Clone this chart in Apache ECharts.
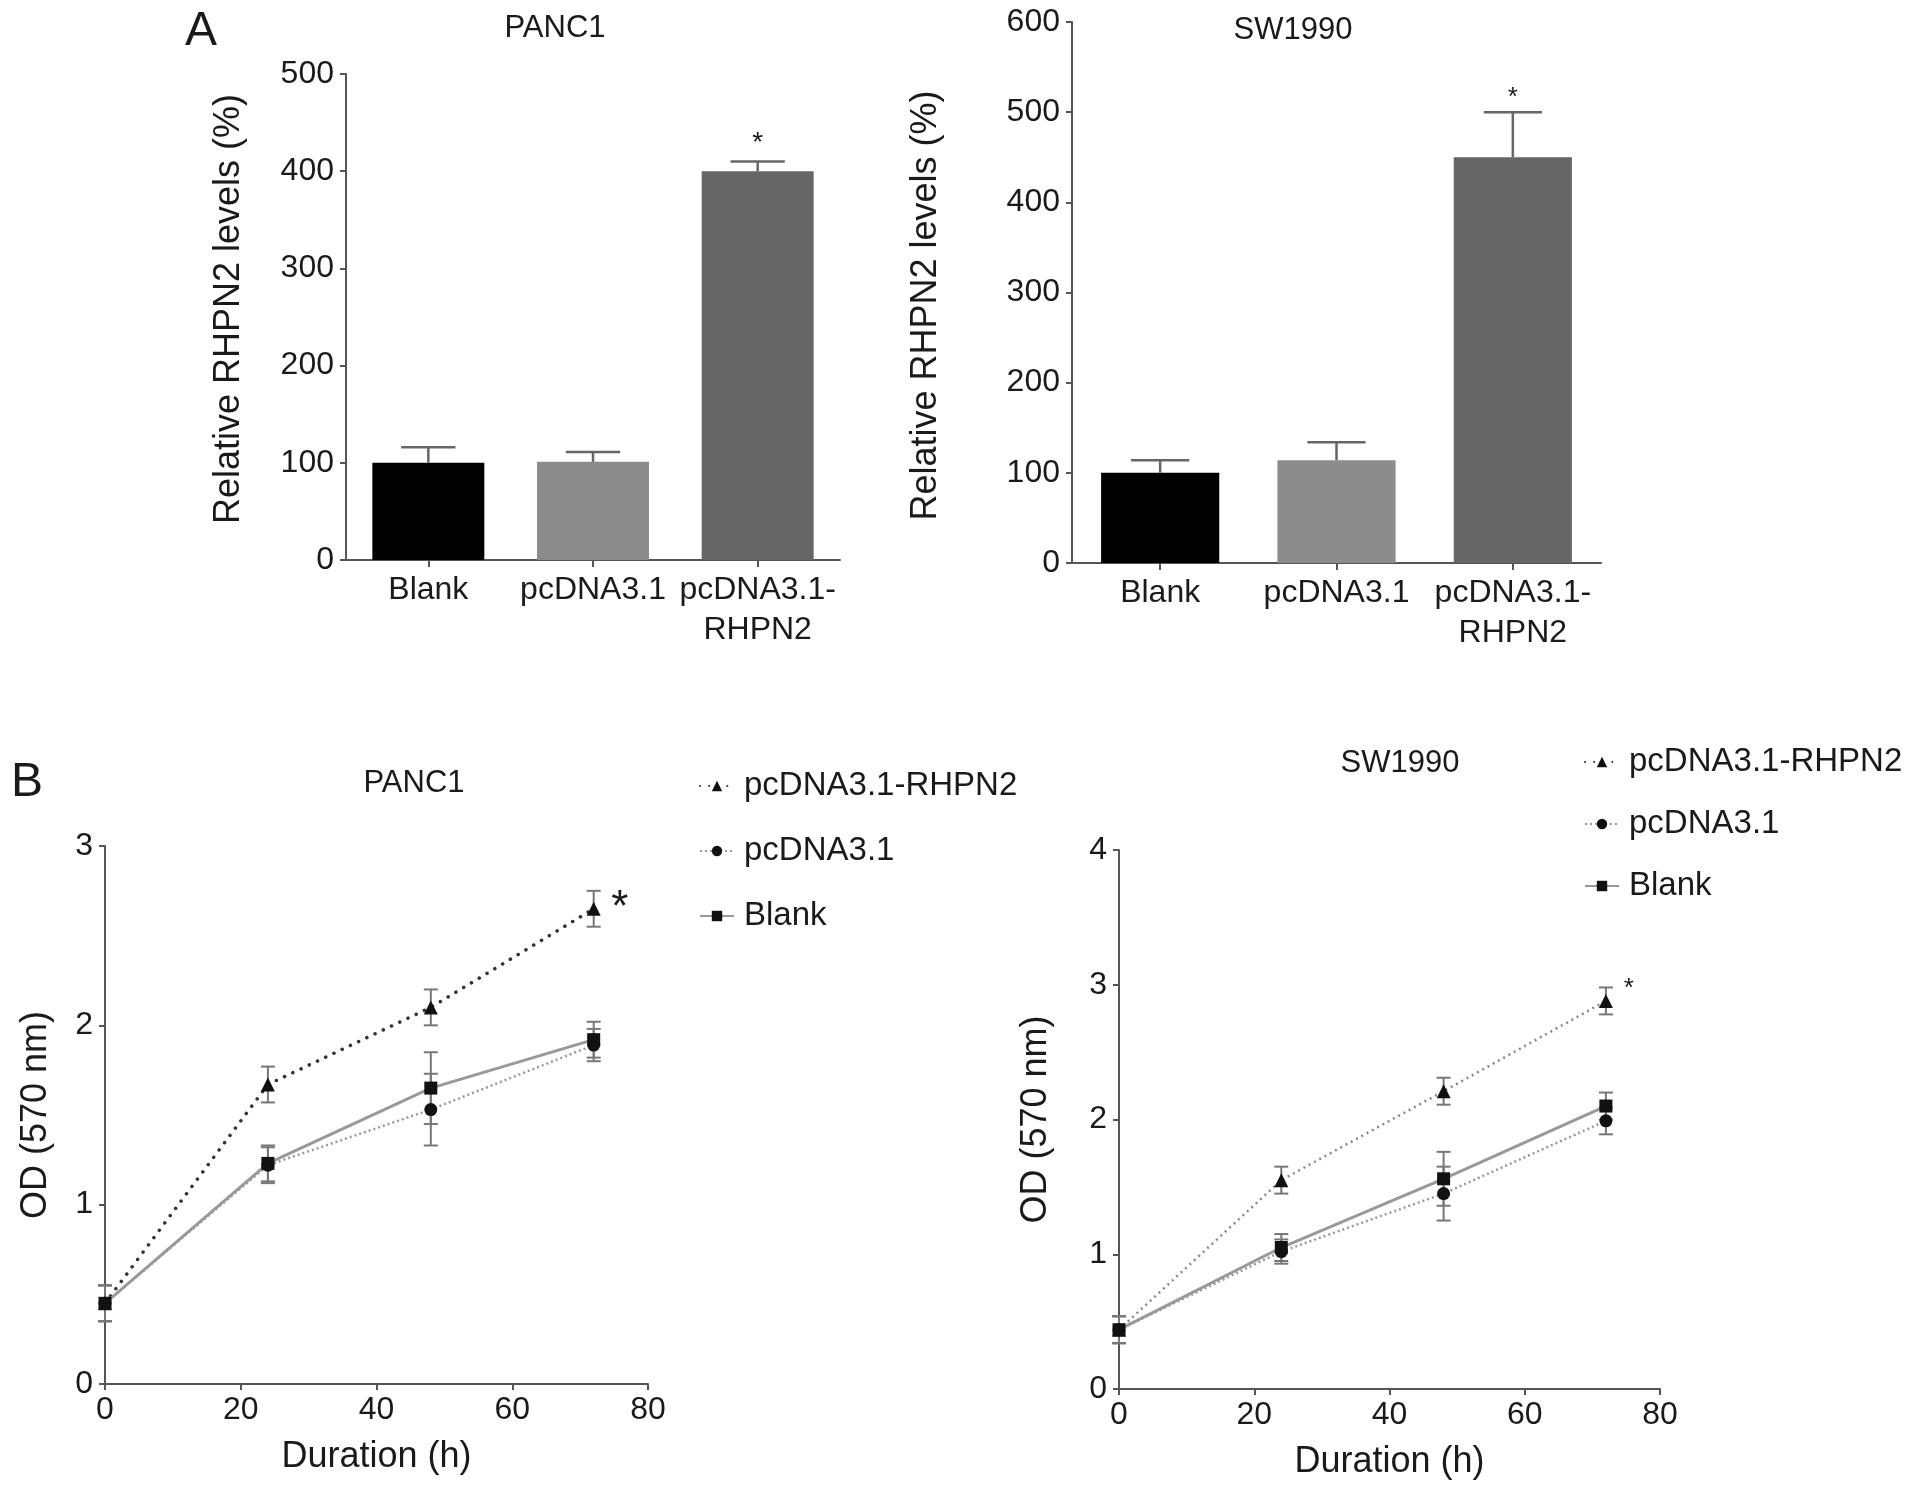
<!DOCTYPE html>
<html><head><meta charset="utf-8">
<script src="https://cdn.jsdelivr.net/npm/echarts@6/dist/echarts.min.js"></script>
<style>html,body{margin:0;padding:0;background:#fff}#c{width:1913px;height:1491px}</style>
</head><body><div id="c"></div>
<script>
// ---- Panel A data (bar charts) ----
const barCategories = ['Blank', 'pcDNA3.1', 'pcDNA3.1-\nRHPN2'];
const panc1Levels = [100, 101, 400];
const panc1LevelsErr = [16, 10, 10];
const panc1LevelsSig = [false, false, true];
const sw1990Levels = [100, 114, 450];
const sw1990LevelsErr = [14, 20, 50];
const sw1990LevelsSig = [false, false, true];

// ---- Panel B data (growth curves) ----
const hours = [0, 24, 48, 72];
const groupNames = ['pcDNA3.1-RHPN2', 'pcDNA3.1', 'Blank'];
const panc1Rhpn2 = [0.45, 1.67, 2.10, 2.65];
const panc1Rhpn2Err = [0.10, 0.10, 0.10, 0.10];
const panc1Pc = [0.45, 1.22, 1.53, 1.89];
const panc1PcErr = [0.10, 0.10, 0.20, 0.09];
const panc1Blank = [0.45, 1.23, 1.65, 1.92];
const panc1BlankErr = [0.10, 0.10, 0.20, 0.10];
const panc1Sig = [false, false, false, true];
const sw1990Rhpn2 = [0.44, 1.55, 2.21, 2.88];
const sw1990Rhpn2Err = [0.10, 0.10, 0.10, 0.10];
const sw1990Pc = [0.44, 1.02, 1.45, 1.99];
const sw1990PcErr = [0.10, 0.09, 0.20, 0.10];
const sw1990Blank = [0.44, 1.05, 1.56, 2.10];
const sw1990BlankErr = [0.10, 0.10, 0.20, 0.10];
const sw1990Sig = [false, false, false, true];

const yTicksA1 = [0, 500, 100];
const yTicksA2 = [0, 600, 100];
const yTicksB1 = [0, 3, 1];
const yTicksB2 = [0, 4, 1];
const xTicksB = [0, 80, 20];

const FONT = "'Liberation Sans', Arial, Helvetica, sans-serif";
const TXT = '#1a1a1a';
const AX = '#555';
const barColors = ['#000000', '#8c8c8c', '#666666'];

function axisCommon() {
  return {
    axisLine: { show: true, lineStyle: { color: AX, width: 2 } },
    axisTick: { show: true, length: 6, lineStyle: { color: AX, width: 2 } },
    splitLine: { show: false },
    axisLabel: { color: TXT, fontSize: 32, fontFamily: FONT, margin: 10 },
    nameTextStyle: { color: TXT, fontSize: 36, fontFamily: FONT },
    nameLocation: 'middle'
  };
}
function catAxis(gi) {
  const a = axisCommon();
  return Object.assign(a, {
    type: 'category', gridIndex: gi, data: barCategories,
    axisTick: { show: true, length: 7, alignWithLabel: true, lineStyle: { color: AX, width: 2 } },
    axisLabel: Object.assign(a.axisLabel, { lineHeight: 40, margin: 10, interval: 0 })
  });
}
function valAxis(gi, t, name, gap, namePad) {
  const a = axisCommon();
  if (namePad) a.nameTextStyle.padding = namePad;
  return Object.assign(a, {
    type: 'value', gridIndex: gi, min: t[0], max: t[1], interval: t[2],
    name: name, nameGap: gap,
    axisLabel: Object.assign(a.axisLabel, { margin: 12 })
  });
}

function barErr(idx, means, errs, sig, star) {
  return {
    type: 'custom', xAxisIndex: idx, yAxisIndex: idx, z: 5, silent: true,
    data: means.map((m, i) => [i, m, errs[i], sig[i] ? 1 : 0]),
    renderItem(params, api) {
      const i = api.value(0), m = api.value(1), e = api.value(2);
      const p0 = api.coord([i, m]), p1 = api.coord([i, m + e]);
      const half = api.size([1, 0])[0] * 0.165;
      const st = { stroke: '#666', lineWidth: 2.5 };
      const ch = [
        { type: 'line', shape: { x1: p0[0], y1: p0[1], x2: p1[0], y2: p1[1] }, style: st },
        { type: 'line', shape: { x1: p1[0] - half, y1: p1[1], x2: p1[0] + half, y2: p1[1] }, style: st }
      ];
      if (api.value(3)) ch.push({ type: 'text', style: { text: '*', x: p1[0] + star.dx, y: p1[1] + star.dy, fontSize: star.size, fontFamily: FONT, fill: TXT, align: 'center', verticalAlign: 'middle' } });
      return { type: 'group', children: ch };
    }
  };
}
function lineErr(idx, means, errs, sig, star) {
  return {
    type: 'custom', xAxisIndex: idx, yAxisIndex: idx, z: 1, silent: true,
    data: hours.map((h, i) => [h, means[i], errs[i], sig ? (sig[i] ? 1 : 0) : 0]),
    renderItem(params, api) {
      const x = api.value(0), m = api.value(1), e = api.value(2);
      const pt = api.coord([x, m + e]), pb = api.coord([x, m - e]);
      const half = 7;
      const st = { stroke: '#777', lineWidth: 2 };
      const ch = [
        { type: 'line', shape: { x1: pt[0], y1: pt[1], x2: pb[0], y2: pb[1] }, style: st },
        { type: 'line', shape: { x1: pt[0] - half, y1: pt[1], x2: pt[0] + half, y2: pt[1] }, style: st },
        { type: 'line', shape: { x1: pb[0] - half, y1: pb[1], x2: pb[0] + half, y2: pb[1] }, style: st }
      ];
      if (api.value(3)) ch.push({ type: 'text', style: { text: '*', x: pt[0] + star.dx, y: pt[1] + star.dy, fontSize: star.size, fontFamily: FONT, fill: TXT, align: 'center', verticalAlign: 'middle' } });
      return { type: 'group', children: ch };
    }
  };
}
const lineStyles = [
  { symbol: 'triangle', symbolSize: 14, lineStyle: { color: '#333', width: 3.5, type: [0.1, 9], cap: 'round' } },
  { symbol: 'circle', symbolSize: 13, lineStyle: { color: '#999', width: 2.5, type: [2, 3] } },
  { symbol: 'rect', symbolSize: 13, lineStyle: { color: '#999', width: 3, type: 'solid' } }
];
const lineStylesSW = [
  { symbol: 'triangle', symbolSize: 14, lineStyle: { color: '#888', width: 2.5, type: [2, 4] } },
  { symbol: 'circle', symbolSize: 13, lineStyle: { color: '#999', width: 2.5, type: [2, 3] } },
  { symbol: 'rect', symbolSize: 13, lineStyle: { color: '#999', width: 3, type: 'solid' } }
];
function lineSeries(idx, name, vals, sty) {
  return {
    type: 'line', name: name, xAxisIndex: idx, yAxisIndex: idx, z: 3,
    data: hours.map((h, i) => [h, vals[i]]),
    symbol: sty.symbol, symbolSize: sty.symbolSize, showSymbol: true,
    itemStyle: { color: '#111' }, lineStyle: sty.lineStyle
  };
}

const chart = echarts.init(document.getElementById('c'), null, { renderer: 'canvas' });
const titleStyle = { fontSize: 31, fontWeight: 'normal', color: TXT, fontFamily: FONT };
const letterStyle = { fontSize: 48, fontWeight: 'normal', color: TXT, fontFamily: FONT };
const legendText = { fontSize: 33, lineHeight: 40, color: TXT, fontFamily: FONT, padding: [0, 0, 0, 5] };

const option = {
  backgroundColor: '#fff',
  animation: false,
  title: [
    { text: 'A', left: 201, top: 8, textAlign: 'center', padding: 0, textStyle: letterStyle },
    { text: 'PANC1', left: 555, top: 13, textAlign: 'center', padding: 0, textStyle: titleStyle },
    { text: 'SW1990', left: 1293, top: 15, textAlign: 'center', padding: 0, textStyle: titleStyle },
    { text: 'B', left: 27, top: 759, textAlign: 'center', padding: 0, textStyle: letterStyle },
    { text: 'PANC1', left: 414, top: 768, textAlign: 'center', padding: 0, textStyle: titleStyle },
    { text: 'SW1990', left: 1400, top: 748, textAlign: 'center', padding: 0, textStyle: titleStyle }
  ],
  legend: [
    { data: groupNames, orient: 'vertical', left: 699, top: 766, padding: 0, itemWidth: 34, itemHeight: 13, itemGap: 25, selectedMode: false, textStyle: legendText },
    { data: groupNames, orient: 'vertical', left: 1584, top: 742, padding: 0, itemWidth: 34, itemHeight: 13, itemGap: 22, selectedMode: false, textStyle: legendText }
  ],
  grid: [
    { left: 346, top: 74, width: 494, height: 486 },
    { left: 1072, top: 22, width: 529, height: 541 },
    { left: 105, top: 846, width: 543, height: 538 },
    { left: 1119, top: 850, width: 541, height: 539 }
  ],
  xAxis: [
    catAxis(0),
    catAxis(1),
    Object.assign(axisCommon(), { type: 'value', gridIndex: 2, min: xTicksB[0], max: xTicksB[1], interval: xTicksB[2], name: 'Duration (h)', nameGap: 55 }),
    Object.assign(axisCommon(), { type: 'value', gridIndex: 3, min: xTicksB[0], max: xTicksB[1], interval: xTicksB[2], name: 'Duration (h)', nameGap: 55 })
  ],
  yAxis: [
    valAxis(0, yTicksA1, 'Relative RHPN2 levels (%)', 99, [0, 0, 0, 16]),
    valAxis(1, yTicksA2, 'Relative RHPN2 levels (%)', 128, [0, 26, 0, 0]),
    valAxis(2, yTicksB1, 'OD (570 nm)', 51),
    valAxis(3, yTicksB2, 'OD (570 nm)', 65)
  ],
  series: [
    { type: 'bar', xAxisIndex: 0, yAxisIndex: 0, barWidth: '68%', z: 2,
      data: panc1Levels.map((v, i) => ({ value: v, itemStyle: { color: barColors[i] } })) },
    barErr(0, panc1Levels, panc1LevelsErr, panc1LevelsSig, { dx: 0, dy: -18, size: 28 }),
    { type: 'bar', xAxisIndex: 1, yAxisIndex: 1, barWidth: '67%', z: 2,
      data: sw1990Levels.map((v, i) => ({ value: v, itemStyle: { color: barColors[i] } })) },
    barErr(1, sw1990Levels, sw1990LevelsErr, sw1990LevelsSig, { dx: 0, dy: -14, size: 26 }),

    lineErr(2, panc1Rhpn2, panc1Rhpn2Err, panc1Sig, { dx: 26, dy: 18, size: 44 }),
    lineErr(2, panc1Pc, panc1PcErr, null, {}),
    lineErr(2, panc1Blank, panc1BlankErr, null, {}),
    lineSeries(2, groupNames[0], panc1Rhpn2, lineStyles[0]),
    lineSeries(2, groupNames[1], panc1Pc, lineStyles[1]),
    lineSeries(2, groupNames[2], panc1Blank, lineStyles[2]),

    lineErr(3, sw1990Rhpn2, sw1990Rhpn2Err, sw1990Sig, { dx: 23, dy: 1, size: 26 }),
    lineErr(3, sw1990Pc, sw1990PcErr, null, {}),
    lineErr(3, sw1990Blank, sw1990BlankErr, null, {}),
    lineSeries(3, groupNames[0], sw1990Rhpn2, lineStylesSW[0]),
    lineSeries(3, groupNames[1], sw1990Pc, lineStylesSW[1]),
    lineSeries(3, groupNames[2], sw1990Blank, lineStylesSW[2])
  ]
};
chart.setOption(option);
</script>
</body></html>
